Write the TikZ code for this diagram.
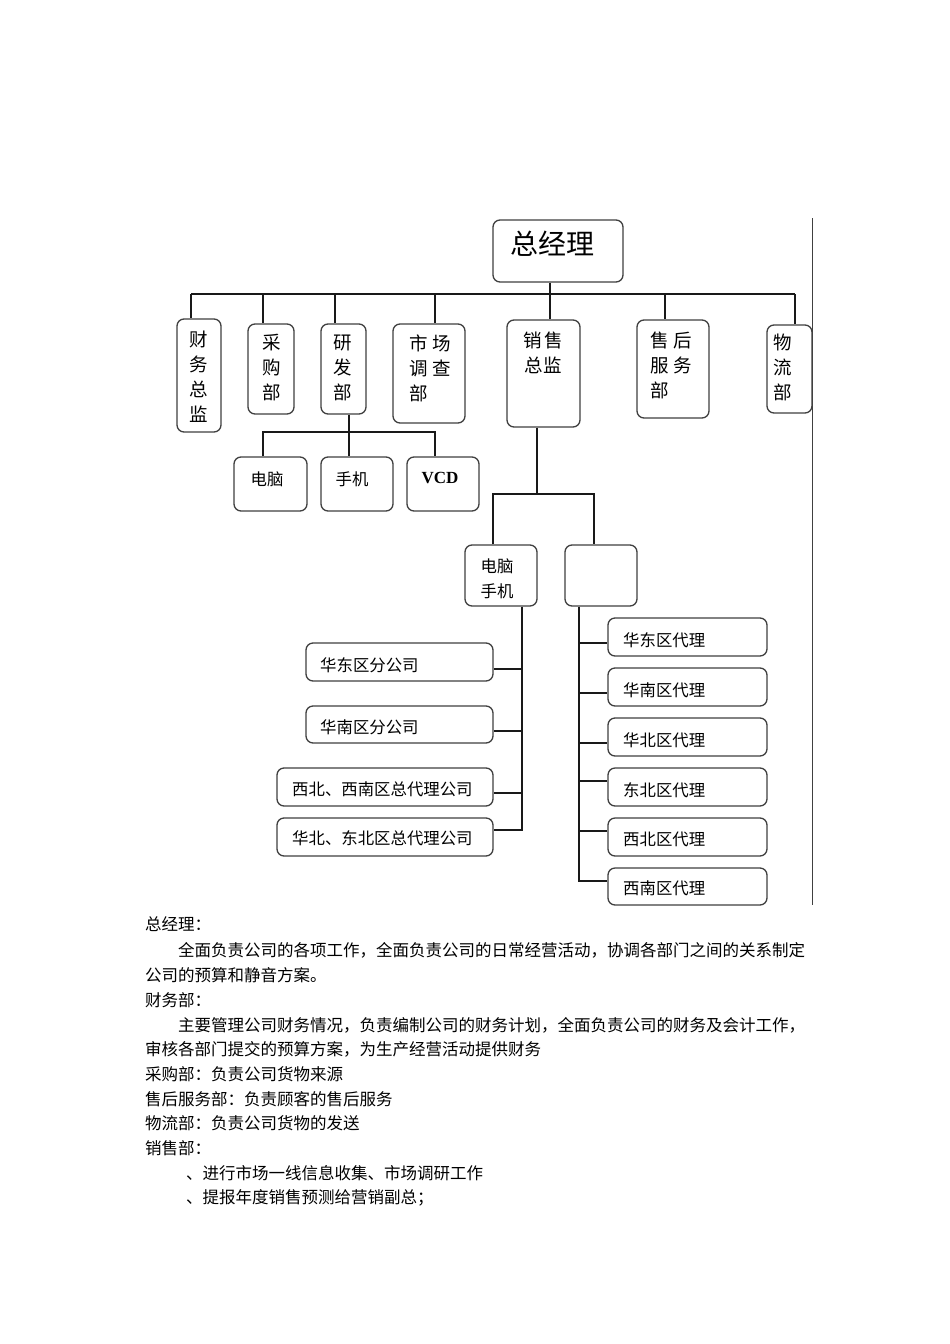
\documentclass[tikz,border=0pt]{standalone}
\usepackage{fontspec}
\setmainfont{Noto Sans CJK SC}
\newfontfamily\latinserif{Liberation Serif}
\tikzset{
  box/.style={draw=black!75, line width=1.3pt, rounded corners=7pt, inner sep=0pt, fill=white},
  conn/.style={draw=black!90, line width=1.05pt},
  toplbl/.style={inner sep=0pt, align=center, font=\fontsize{18.5}{25}\selectfont},
  toplbll/.style={inner sep=0pt, align=left, font=\fontsize{18.5}{25}\selectfont},
  lbl/.style={inner sep=0pt, font=\fontsize{16.4}{20}\selectfont},
  lblw/.style={inner sep=0pt, anchor=west, font=\fontsize{16.4}{20}\selectfont},
  para/.style={inner sep=0pt, anchor=west, font=\fontsize{16.5}{20}\selectfont},
}
\newcommand\boxnode[5]{\node[box, minimum width={#4-#2}, minimum height={#5-#3}] (#1) at ({(#2+#4)/2},{(#3+#5)/2}) {};}
\begin{document}
\begin{tikzpicture}[x=1pt,y=-1pt]
\fill[white] (0,0) rectangle (950,1344);
\useasboundingbox (0,0) rectangle (950,1344);

% ---------- boxes ----------
\boxnode{gm}{493}{220}{623}{282}
\boxnode{cw}{177}{319}{221}{432}
\boxnode{cg}{248}{324}{294}{414}
\boxnode{yf}{321}{324}{366}{414}
\boxnode{sc}{393}{324}{465}{423}
\boxnode{xs}{507}{320}{580}{427}
\boxnode{sh}{637}{320}{709}{418}
\boxnode{wl}{767}{325}{812}{413}
\boxnode{pc}{234}{457}{307}{511}
\boxnode{sj}{321}{457}{393}{511}
\boxnode{vcd}{407}{457}{479}{511}
\boxnode{dn}{465}{545}{537}{606}
\boxnode{em}{565}{545}{637}{606}
\boxnode{f1}{306}{643}{493}{681}
\boxnode{f2}{306}{706}{493}{743}
\boxnode{f3}{277}{768}{493}{806}
\boxnode{f4}{277}{818}{493}{856}
\boxnode{a1}{608}{618}{767}{656}
\boxnode{a2}{608}{668}{767}{706}
\boxnode{a3}{608}{718}{767}{756}
\boxnode{a4}{608}{768}{767}{806}
\boxnode{a5}{608}{818}{767}{856}
\boxnode{a6}{608}{868}{767}{905}

% ---------- labels ----------
\node[inner sep=0pt, font=\fontsize{28}{32}\selectfont] (tgm) at (552,244) {总经理};
\node[toplbl] (tcw) at (199,377) {财\\务\\总\\监};
\node[toplbl] (tcg) at (272,368) {采\\购\\部};
\node[toplbl] (tyf) at (343,368) {研\\发\\部};
\node[toplbll] (tsc) at (430,368) {市\hspace{5pt}场\\调\hspace{5pt}查\\部};
\node[toplbl] (txs) at (543,353) {销\hspace{2pt}售\\总监};
\node[toplbll] (tsh) at (671,365) {售\hspace{5pt}后\\服\hspace{5pt}务\\部};
\node[toplbl] (twl) at (783,367) {物\\流\\部};

\node[lbl] (tpc) at (267,479) {电脑};
\node[lbl] (tsj) at (352,479) {手机};
\node[inner sep=0pt, font=\latinserif\bfseries\fontsize{17}{20}\selectfont] (tvcd) at (440,478) {VCD};
\node[inner sep=0pt, align=center, font=\fontsize{16.4}{25}\selectfont] (tdn) at (497,579) {电脑\\手机};

\node[lblw] (tf1) at (320,665) {华东区分公司};
\node[lblw] (tf2) at (320,727) {华南区分公司};
\node[lblw] (tf3) at (292,789) {西北、西南区总代理公司};
\node[lblw] (tf4) at (292,838) {华北、东北区总代理公司};

\node[lblw] (ta1) at (623,640) {华东区代理};
\node[lblw] (ta2) at (623,690) {华南区代理};
\node[lblw] (ta3) at (623,740) {华北区代理};
\node[lblw] (ta4) at (623,790) {东北区代理};
\node[lblw] (ta5) at (623,839) {西北区代理};
\node[lblw] (ta6) at (623,888) {西南区代理};

% ---------- connectors ----------
\coordinate (bus1) at (191,294);
\coordinate (bus2) at (263,294);
\coordinate (bus3) at (335,294);
\coordinate (bus4) at (435,294);
\coordinate (bus5) at (550,294);
\coordinate (bus6) at (665,294);
\coordinate (bus7) at (795,294);
\draw[conn] (bus1) -- (bus7);
\draw[conn] (bus1) -- (bus1 |- cw.north);
\draw[conn] (bus2) -- (bus2 |- cg.north);
\draw[conn] (bus3) -- (bus3 |- yf.north);
\draw[conn] (bus4) -- (bus4 |- sc.north);
\draw[conn] (bus6) -- (bus6 |- sh.north);
\draw[conn] (bus7) -- (bus7 |- wl.north);
\draw[conn] (gm.south -| bus5) -- (xs.north -| bus5);

\coordinate (rd) at (349,432);
\coordinate (rdL) at (263,432);
\coordinate (rdR) at (435,432);
\draw[conn] (yf.south -| rd) -- (sj.north -| rd);
\draw[conn] (rdL |- pc.north) -- (rdL) -- (rdR) -- (rdR |- vcd.north);

\coordinate (sm) at (537,494);
\coordinate (smL) at (493,494);
\coordinate (smR) at (594,494);
\draw[conn] (xs.south -| sm) -- (sm);
\draw[conn] (smL |- dn.north) -- (smL) -- (smR) -- (smR |- em.north);

\coordinate (lv) at (522,830);
\coordinate (l1) at (522,669);
\coordinate (l2) at (522,731);
\coordinate (l3) at (522,793);
\draw[conn] (dn.south -| lv) -- (lv) -- (lv -| f4.east);
\draw[conn] (l1) -- (l1 -| f1.east);
\draw[conn] (l2) -- (l2 -| f2.east);
\draw[conn] (l3) -- (l3 -| f3.east);

\coordinate (rv) at (579,881);
\coordinate (r1) at (579,643);
\coordinate (r2) at (579,693);
\coordinate (r3) at (579,743);
\coordinate (r4) at (579,781);
\coordinate (r5) at (579,831);
\draw[conn] (em.south -| rv) -- (rv) -- (rv -| a6.west);
\draw[conn] (r1) -- (r1 -| a1.west);
\draw[conn] (r2) -- (r2 -| a2.west);
\draw[conn] (r3) -- (r3 -| a3.west);
\draw[conn] (r4) -- (r4 -| a4.west);
\draw[conn] (r5) -- (r5 -| a5.west);

\coordinate (ruleT) at (812.5,218);
\coordinate (ruleB) at (812.5,905);
\draw[line width=0.9pt, black!75] (ruleT) -- (ruleB);

% ---------- text ----------
\node[para] (p1) at (145,924) {总经理：};
\node[para] (p2) at (178,950) {全面负责公司的各项工作，全面负责公司的日常经营活动，协调各部门之间的关系制定};
\node[para] (p3) at (145,975) {公司的预算和静音方案。};
\node[para] (p4) at (145,1000) {财务部：};
\node[para] (p5) at (178,1025) {主要管理公司财务情况，负责编制公司的财务计划，全面负责公司的财务及会计工作，};
\node[para] (p6) at (145,1049) {审核各部门提交的预算方案，为生产经营活动提供财务};
\node[para] (p7) at (145,1074) {采购部：负责公司货物来源};
\node[para] (p8) at (145,1099) {售后服务部：负责顾客的售后服务};
\node[para] (p9) at (145,1123) {物流部：负责公司货物的发送};
\node[para] (p10) at (145,1148) {销售部：};
\node[para] (p11) at (186,1173) {、进行市场一线信息收集、市场调研工作};
\node[para] (p12) at (186,1198) {、提报年度销售预测给营销副总；};
\end{tikzpicture}
\end{document}
